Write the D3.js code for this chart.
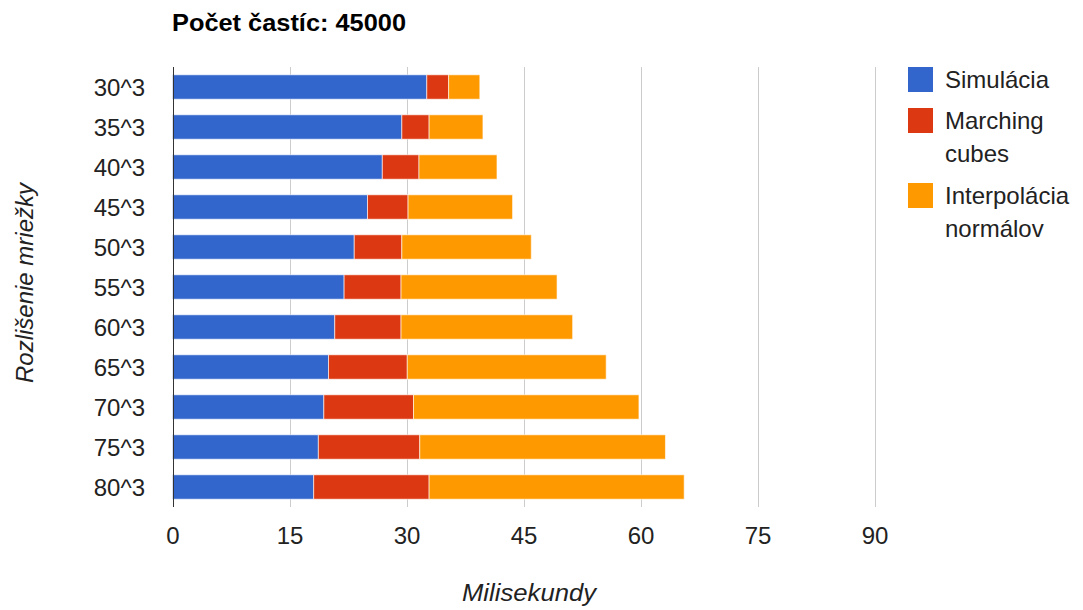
<!DOCTYPE html>
<html>
<head>
<meta charset="utf-8">
<script src="https://cdn.jsdelivr.net/npm/d3@7"></script>
<style>
  html, body { margin: 0; padding: 0; background: #fff; }
  svg { display: block; font-family: "Liberation Sans", Arial, sans-serif; }
</style>
</head>
<body>
<svg id="chart" width="1083" height="610"></svg>
<script>
const categories = ["30^3","35^3","40^3","45^3","50^3","55^3","60^3","65^3","70^3","75^3","80^3"];
const seriesNames = ["Simulácia", "Marching cubes", "Interpolácia normálov"];
const simulacia    = [32.6, 29.4, 26.9, 25.0, 23.3, 22.0, 20.8, 20.0, 19.4, 18.7, 18.1];
const marching     = [2.8, 3.5, 4.7, 5.2, 6.1, 7.3, 8.5, 10.1, 11.5, 13.0, 14.8];
const interpolacia = [4.0, 6.9, 10.0, 13.4, 16.6, 20.0, 22.0, 25.5, 28.9, 31.5, 32.7];
const xTicks = [0, 15, 30, 45, 60, 75, 90];
const colors = ["#3366cc", "#dc3912", "#ff9900"];
const legendLines = [["Simulácia"], ["Marching", "cubes"], ["Interpolácia", "normálov"]];
const title = "Počet častíc: 45000";
const xTitle = "Milisekundy";
const yTitle = "Rozlišenie mriežky";

(function () {
const svg = d3.select("#chart");
const pL = 172.5, pR = 874.5, pT = 67, pB = 507;

const x = d3.scaleLinear().domain([0, 90]).range([pL, pR]);
const y = d3.scaleBand().domain(categories).range([pT, pB]).paddingInner(0.39).paddingOuter(0.195);

const rows = categories.map((c, i) => ({cat: c, s0: simulacia[i], s1: marching[i], s2: interpolacia[i]}));
const stack = d3.stack().keys(["s0", "s1", "s2"])(rows);

// gridlines
svg.append("g").selectAll("line").data(xTicks.filter(d => d !== 0)).join("line")
  .attr("x1", d => Math.round(x(d)) + 0.5).attr("x2", d => Math.round(x(d)) + 0.5)
  .attr("y1", pT).attr("y2", pB)
  .attr("stroke", "#cccccc").attr("stroke-width", 1);

// bars
svg.append("g").selectAll("g").data(stack).join("g")
  .attr("fill", (d, i) => colors[i])
  .selectAll("rect").data(d => d).join("rect")
  .attr("x", d => x(d[0]))
  .attr("width", d => x(d[1]) - x(d[0]))
  .attr("y", d => y(d.data.cat))
  .attr("height", y.bandwidth())
  .attr("stroke", "#ffffff").attr("stroke-opacity", 0.6).attr("stroke-width", 1);

// baseline axis
svg.append("line")
  .attr("x1", Math.round(x(0)) + 0.5).attr("x2", Math.round(x(0)) + 0.5)
  .attr("y1", pT).attr("y2", pB)
  .attr("stroke", "#333333").attr("stroke-width", 1);

// x axis labels
const xAxis = d3.axisBottom(x).tickValues(xTicks).tickSize(0).tickPadding(0);
const gx = svg.append("g").attr("transform", `translate(0, ${pB})`).call(xAxis);
gx.select(".domain").remove();
gx.selectAll("text").attr("font-size", 24).attr("fill", "#222222")
  .attr("font-family", "Liberation Sans, Arial, sans-serif")
  .attr("dy", null).attr("y", 37);

// y axis labels
const yAxis = d3.axisLeft(y).tickSize(0).tickPadding(0);
const gy = svg.append("g").attr("transform", `translate(145, 0)`).call(yAxis);
gy.select(".domain").remove();
gy.selectAll("text").attr("font-size", 24).attr("fill", "#222222")
  .attr("font-family", "Liberation Sans, Arial, sans-serif")
  .attr("dy", null).attr("y", 9);

// title
svg.append("text").attr("x", 172).attr("y", 31).text(title)
  .attr("font-size", 23).attr("font-weight", "bold").attr("fill", "#000")
  .attr("textLength", 234).attr("lengthAdjust", "spacingAndGlyphs");

// axis titles
svg.append("text").attr("x", 529).attr("y", 601).attr("text-anchor", "middle")
  .attr("font-size", 23).attr("font-style", "italic").attr("fill", "#222").text(xTitle)
  .attr("textLength", 134).attr("lengthAdjust", "spacingAndGlyphs");
svg.append("text").attr("transform", "translate(33, 283) rotate(-90)").attr("text-anchor", "middle")
  .attr("font-size", 24).attr("font-style", "italic").attr("fill", "#222").text(yTitle);

// legend
const legY = [67, 108, 183];
const lg = svg.append("g").selectAll("g").data(seriesNames).join("g");
lg.append("rect").attr("x", 908).attr("y", (d, i) => legY[i]).attr("width", 25).attr("height", 25)
  .attr("fill", (d, i) => colors[i]);
lg.each(function(d, i) {
  const t = d3.select(this).append("text").attr("x", 945).attr("y", legY[i] + 21)
    .attr("font-size", 24).attr("fill", "#222");
  legendLines[i].forEach((ln, j) => {
    t.append("tspan").attr("x", 945).attr("dy", j === 0 ? 0 : 33).text(ln);
  });
});
})();
</script>
</body>
</html>
